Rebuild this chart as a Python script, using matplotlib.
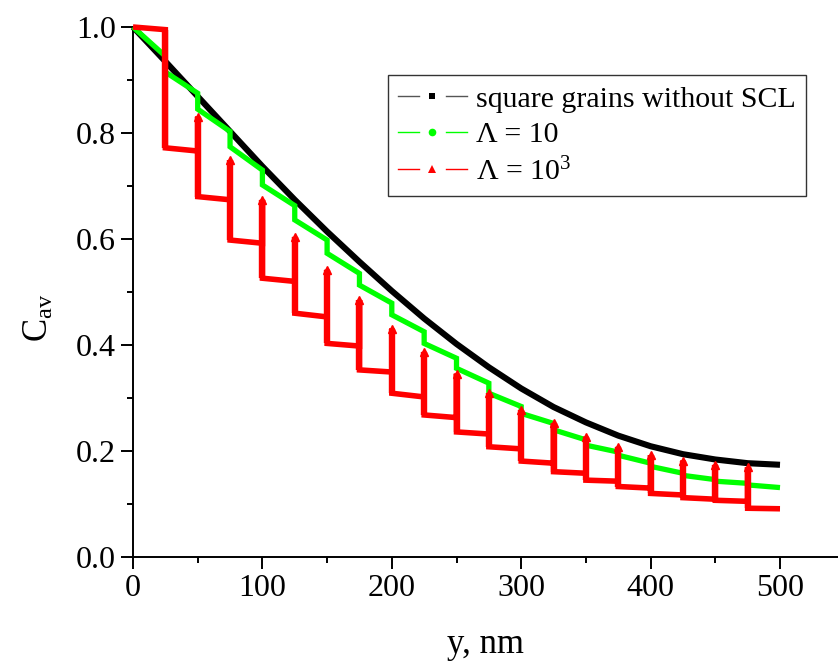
from __future__ import annotations

import matplotlib
import numpy as np

matplotlib.use("Agg")
import matplotlib.pyplot as plt
from matplotlib.legend_handler import HandlerBase
from matplotlib.lines import Line2D
from matplotlib.ticker import FormatStrFormatter, MultipleLocator


# depth positions (nm), grain boundaries every 25 nm
Y_NM = [0, 25, 50, 75, 100, 125, 150, 175, 200, 225, 250,
        275, 300, 325, 350, 375, 400, 425, 450, 475, 500]

# square grains without SCL (smooth curve, read at every 25 nm)
BLACK_C = [1.000, 0.935, 0.869, 0.803, 0.737, 0.674, 0.614, 0.557, 0.502, 0.450, 0.402,
           0.358, 0.318, 0.283, 0.254, 0.229, 0.209, 0.194, 0.184, 0.177, 0.174]

# Lambda = 10 : value at start and end of each grain
GREEN_START = [1.000, 0.915, 0.845, 0.774, 0.702, 0.636, 0.573, 0.513, 0.457, 0.403,
               0.356, 0.309, 0.271, 0.240, 0.211, 0.192, 0.171, 0.154, 0.143, 0.136]
GREEN_END = [0.945, 0.875, 0.803, 0.730, 0.663, 0.598, 0.535, 0.479, 0.425, 0.375,
             0.328, 0.284, 0.252, 0.221, 0.198, 0.177, 0.158, 0.146, 0.139, 0.131]

# Lambda = 10^3 : plateaus per grain and spike tops at the inner boundaries
RED_START = [1.000, 0.772, 0.680, 0.598, 0.526, 0.460, 0.403, 0.353, 0.309, 0.268,
             0.236, 0.208, 0.181, 0.161, 0.145, 0.133, 0.120, 0.112, 0.107, 0.092]
RED_END = [0.995, 0.766, 0.674, 0.592, 0.520, 0.453, 0.398, 0.349, 0.302, 0.263,
           0.232, 0.204, 0.177, 0.158, 0.143, 0.130, 0.117, 0.109, 0.105, 0.091]
RED_PEAK = [0.995, 0.831, 0.749, 0.674, 0.604, 0.542, 0.485, 0.431, 0.387, 0.346,
            0.309, 0.277, 0.252, 0.227, 0.208, 0.192, 0.182, 0.174, 0.169]

LABELS = ["square grains without SCL", "Λ = 10", "Λ = 10$^{3}$"]

FONT = "Liberation Serif"


class GapLineHandler(HandlerBase):
    """Origin-like legend symbol: line - marker - line, with gaps."""

    def create_artists(self, legend, orig_handle, xdescent, ydescent,
                       width, height, fontsize, trans):
        y = height / 2 - ydescent
        x0 = -xdescent
        gap = 0.19 * width
        mid = x0 + width / 2
        kw = dict(color=orig_handle.get_color(), lw=orig_handle.get_linewidth())
        left = Line2D([x0, mid - gap], [y, y], **kw)
        right = Line2D([mid + gap, x0 + width], [y, y], **kw)
        mark = Line2D([mid], [y], ls="none", marker=orig_handle.get_marker(),
                      ms=orig_handle.get_markersize(),
                      mfc=orig_handle.get_markerfacecolor(),
                      mec=orig_handle.get_markeredgecolor(), mew=0)
        artists = [left, right, mark]
        for a in artists:
            a.set_transform(trans)
        return artists


def stepped_path(edges, start, end, peak=None):
    xs, ys = [], []
    for i in range(len(start)):
        if i > 0 and peak is not None:
            xs.append(edges[i])
            ys.append(peak[i - 1])
        xs += [edges[i], edges[i + 1]]
        ys += [start[i], end[i]]
    return np.array(xs), np.array(ys)


def main() -> None:
    matplotlib.rcParams.update(
        {
            "font.family": FONT,
            "mathtext.fontset": "custom",
            "mathtext.rm": FONT,
            "mathtext.it": FONT + ":italic",
            "mathtext.bf": FONT + ":bold",
        }
    )

    fig = plt.figure(figsize=(8.38, 6.63), dpi=100)
    ax = fig.add_axes([133 / 838, 106 / 663, 705 / 838, 530 / 663])

    edges = np.array(Y_NM)

    gx, gy = stepped_path(edges, GREEN_START, GREEN_END)
    rx, ry = stepped_path(edges, RED_START, RED_END, RED_PEAK)

    ax.plot(edges, BLACK_C, color="black", lw=4.4, zorder=3, clip_on=False,
            solid_capstyle="butt")
    ax.plot(gx, gy, color="#00ff00", lw=3.8, zorder=4, clip_on=False,
            solid_joinstyle="miter", solid_capstyle="butt")

    # red: plateaus + vertical spikes at grain boundaries
    ax.plot(rx, ry, color="#ff0000", lw=4.0, zorder=5, clip_on=False,
            solid_joinstyle="miter", solid_capstyle="butt")
    for i in range(1, len(RED_START)):
        top = max(RED_PEAK[i - 1], RED_END[i - 1])
        ax.plot([edges[i], edges[i]], [RED_START[i], top], color="#ff0000",
                lw=4.6, zorder=5, clip_on=False, solid_capstyle="butt")
        if RED_PEAK[i - 1] > RED_END[i - 1] + 0.01:
            ax.plot(edges[i], RED_PEAK[i - 1], marker="^", ms=5.5, color="#ff0000",
                    mec="#ff0000", zorder=6, clip_on=False)

    # legend proxies
    handles = [
        Line2D([], [], color="#555555", lw=1.0, marker="s", ms=5, mfc="black",
               mec="black"),
        Line2D([], [], color="#00ff00", lw=1.0, marker="o", ms=5.5, mfc="#00ff00",
               mec="#00ff00"),
        Line2D([], [], color="#ff0000", lw=1.0, marker="^", ms=6, mfc="#ff0000",
               mec="#ff0000"),
    ]
    leg = ax.legend(
        handles,
        LABELS,
        handler_map={Line2D: GapLineHandler()},
        loc="upper right",
        bbox_to_anchor=(0.9546, 0.909),
        borderaxespad=0,
        fontsize=21.5,
        handlelength=2.3,
        handletextpad=0.3,
        labelspacing=0.3,
        borderpad=0.35,
        fancybox=False,
        framealpha=1,
        edgecolor="#333333",
    )
    leg.get_frame().set_linewidth(1.0)

    ax.set_xlim(0, 500 * 705 / 647)
    ax.set_ylim(0, 1.0)
    ax.xaxis.set_major_locator(MultipleLocator(100))
    ax.xaxis.set_minor_locator(MultipleLocator(50))
    ax.yaxis.set_major_locator(MultipleLocator(0.2))
    ax.yaxis.set_minor_locator(MultipleLocator(0.1))
    ax.yaxis.set_major_formatter(FormatStrFormatter("%.1f"))

    ax.tick_params(which="major", direction="out", length=8.5, width=1.4,
                   labelsize=23, pad=4)
    ax.tick_params(which="minor", direction="out", length=4.5, width=1.4)
    for side in ("top", "right"):
        ax.spines[side].set_visible(False)
    for side in ("left", "bottom"):
        ax.spines[side].set_linewidth(1.4)

    ax.set_xlabel("y, nm", fontsize=25, labelpad=18)
    ax.set_ylabel(r"C$_{\mathrm{av}}$", fontsize=25)
    ax.yaxis.set_label_coords(-0.11, 0.451)

    fig.savefig("out.png", dpi=100)
    plt.close(fig)


if __name__ == "__main__":
    main()
